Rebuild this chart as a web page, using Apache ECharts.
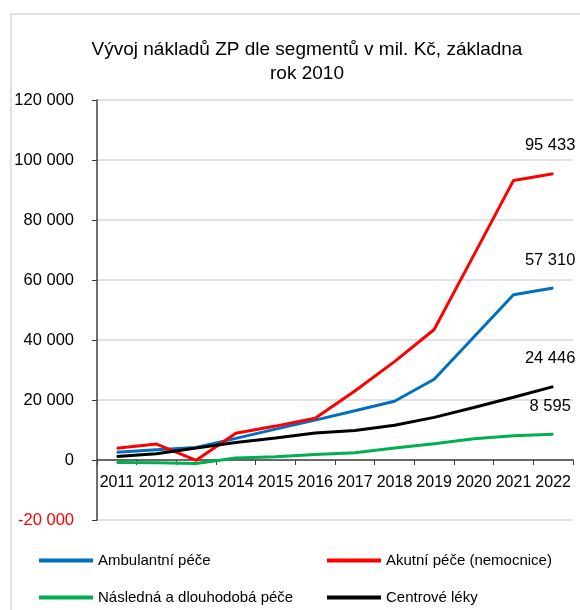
<!DOCTYPE html>
<html>
<head>
<meta charset="utf-8">
<script src="https://cdn.jsdelivr.net/npm/echarts@6/dist/echarts.min.js"></script>
<style>
  html, body { margin: 0; padding: 0; background: #fff; }
  #chart { width: 580px; height: 610px; }
</style>
</head>
<body>
<div id="chart"></div>
<script>
var years = ['2011','2012','2013','2014','2015','2016','2017','2018','2019','2020','2021','2022'];
var ambulantni = [2600, 3400, 4200, 7200, 10300, 13300, 16400, 19600, 26900, 41000, 55100, 57310];
var akutni = [3900, 5300, -100, 8900, 11300, 13900, 23000, 32800, 43500, 68300, 93200, 95433];
var nasledna = [-800, -900, -1200, 700, 1100, 1800, 2400, 4000, 5400, 7100, 8100, 8595];
var centrove = [1200, 2100, 4000, 5800, 7300, 9000, 9800, 11600, 14200, 17500, 20900, 24446];
var names = ['Ambulantní péče', 'Akutní péče (nemocnice)', 'Následná a dlouhodobá péče', 'Centrové léky'];
var colors = ['#0070C0', '#FF0000', '#00B050', '#000000'];
var yTicks = { min: -20000, max: 120000, interval: 20000 };

var font = '"Liberation Sans", Arial, sans-serif';
var gridTop = 100, gridBottom = 90;
var gridH = 610 - gridTop - gridBottom;
// posun osy x na nulu (popisky pak jdou s ní)
var zeroOffset = -(0 - yTicks.min) / (yTicks.max - yTicks.min) * gridH;

function fmt(v) {
	return String(v).replace(/\B(?=(\d{3})+(?!\d))/g, ' ');
}

function mkSeries(name, values, color) {
	var last = values.length - 1;
	return {
		name: name,
		type: 'line',
		symbol: 'circle',
		symbolSize: 1,
		showSymbol: true,
		smooth: false,
		lineStyle: { width: 3, color: color },
		itemStyle: { color: color },
		data: values.map(function (v, i) {
			if (i !== last) return v;
			return {
				value: v,
				label: {
					show: true,
					position: 'top',
					distance: 19,
					offset: [-3, 0],
					formatter: function (p) { return fmt(p.value); },
					color: '#000',
					fontFamily: font,
					fontSize: 16.5
				}
			};
		})
	};
}

var legendPos = [[39, 553], [327, 553], [39, 590], [327, 590]];

var chart = echarts.init(document.getElementById('chart'));
var option = {
	animation: false,
	backgroundColor: '#fff',
	graphic: [{
		type: 'rect',
		shape: { x: 11, y: 14, width: 620, height: 620 },
		style: { fill: 'none', stroke: '#d9d9d9', lineWidth: 1.5 },
		silent: true,
		z: -1
	}],
	title: {
		text: 'Vývoj nákladů ZP dle segmentů v mil. Kč, základna\nrok 2010',
		left: 302,
		top: 33,
		textAlign: 'center',
		textStyle: {
			fontFamily: font,
			fontSize: 19,
			fontWeight: 'normal',
			color: '#000',
			lineHeight: 24
		}
	},
	legend: names.map(function (n, i) {
		return {
			data: [n],
			left: legendPos[i][0],
			top: legendPos[i][1],
			icon: 'rect',
			itemWidth: 54,
			itemHeight: 4,
			itemGap: 0,
			padding: 0,
			textStyle: { fontFamily: font, fontSize: 15, color: '#000' }
		};
	}),
	grid: { left: 97, right: 7, top: gridTop, bottom: gridBottom },
	xAxis: {
		type: 'category',
		data: years,
		boundaryGap: true,
		offset: zeroOffset,
		axisLine: { onZero: false, lineStyle: { color: '#404040', width: 1.5 } },
		axisTick: { show: true, length: 5, lineStyle: { color: '#404040' } },
		axisLabel: { fontFamily: font, fontSize: 16, color: '#000', margin: 15, interval: 0 },
		splitLine: { show: false }
	},
	yAxis: {
		type: 'value',
		min: yTicks.min,
		max: yTicks.max,
		interval: yTicks.interval,
		axisLine: { show: true, lineStyle: { color: '#404040', width: 1.5 } },
		axisTick: { show: true, length: 5, lineStyle: { color: '#404040' } },
		axisLabel: {
			fontFamily: font,
			fontSize: 16.5,
			margin: 23,
			formatter: function (v) { return fmt(v); },
			color: function (v) { return Number(v) < 0 ? '#FF0000' : '#000'; }
		},
		splitLine: { show: true, lineStyle: { color: '#d9d9d9', width: 1.5 } }
	},
	series: [
		mkSeries(names[0], ambulantni, colors[0]),
		mkSeries(names[1], akutni, colors[1]),
		mkSeries(names[2], nasledna, colors[2]),
		mkSeries(names[3], centrove, colors[3])
	]
};
chart.setOption(option);
</script>
</body>
</html>
